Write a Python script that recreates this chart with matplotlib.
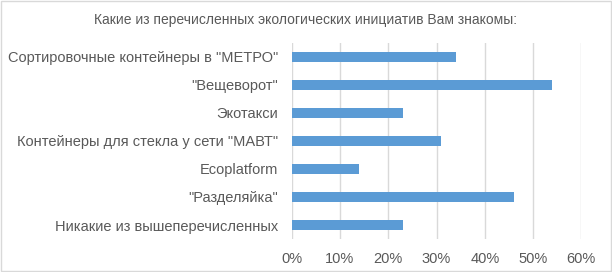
import matplotlib.pyplot as plt
from matplotlib.ticker import PercentFormatter

categories = [
    'Сортировочные контейнеры в "МЕТРО"',
    '"Вещеворот"',
    'Экотакси',
    'Контейнеры для стекла у сети "МАВТ"',
    'Ecoplatform',
    '"Разделяйка"',
    'Никакие из вышеперечисленных',
]
values = [0.34, 0.54, 0.23, 0.31, 0.14, 0.46, 0.23]
title = "Какие из перечисленных экологических инициатив Вам знакомы:"

text_color = "#595959"
grid_color = "#d9d9d9"
bar_color = "#5b9bd5"

plt.rcParams["font.family"] = ["Liberation Sans", "DejaVu Sans"]

fig = plt.figure(figsize=(6.12, 2.72), dpi=100)
ax = fig.add_axes([0.4766, 0.1213, 0.4733, 0.7207])

pos = list(range(len(categories)))[::-1]
ax.barh(pos, values, height=0.34, color=bar_color, zorder=3)

ax.set_ylim(-0.5, len(categories) - 0.5)
ax.set_xlim(0, 0.6)
ax.set_xticks([0, 0.1, 0.2, 0.3, 0.4, 0.5, 0.6])
ax.xaxis.set_major_formatter(PercentFormatter(1.0, decimals=0))
ax.set_yticks(pos)
ax.set_yticklabels(categories)

ax.grid(axis="x", color=grid_color, linewidth=1, zorder=0)
for s in ax.spines.values():
    s.set_visible(False)
ax.tick_params(axis="both", length=0, colors=text_color, labelsize=10.5)
ax.tick_params(axis="y", pad=10)
ax.tick_params(axis="x", pad=9)

fig.text(0.5, 0.925, title, ha="center", va="center", fontsize=10, color=text_color)

border = plt.Rectangle((0.001, 0.002), 0.997, 0.995, transform=fig.transFigure,
                       fill=False, edgecolor=grid_color, linewidth=1)
fig.patches.append(border)

fig.savefig("out.png", dpi=100)
